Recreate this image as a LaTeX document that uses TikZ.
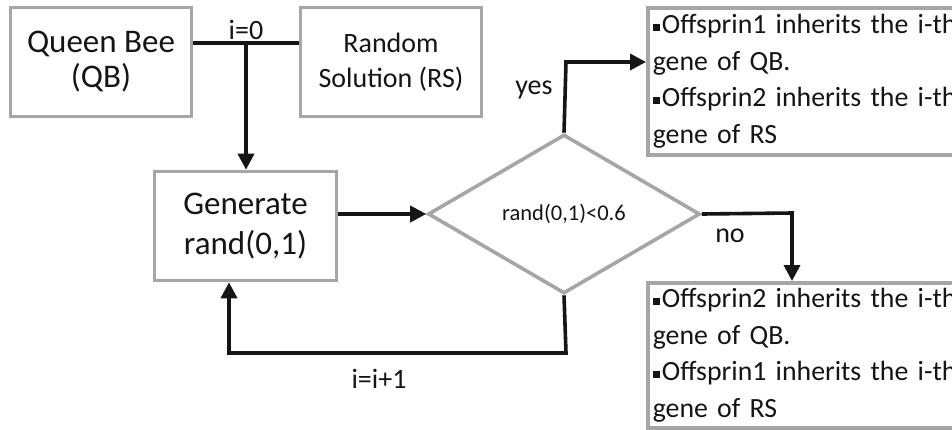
\documentclass[tikz,border=0pt]{standalone}
\usepackage{fontspec}
\setmainfont{Carlito}
\usetikzlibrary{arrows.meta,shapes.geometric,calc}
\newcommand{\bul}{\raisebox{0.18ex}{\rule{0.27em}{0.27em}}\hspace{0.06em}}
\tikzset{
  gbox/.style={draw=boxgray, line width=3.6pt, inner sep=0pt, align=center},
  conn/.style={line width=3.6pt, draw=linegray},
  arr/.style={conn, -{Triangle[length=16pt,width=16pt]}},
  lbl/.style={font=\fontsize{28}{30}\selectfont, text=txt, inner sep=0pt},
}
\definecolor{boxgray}{HTML}{A6A6A6}
\definecolor{linegray}{HTML}{151515}
\definecolor{txt}{HTML}{151515}
\begin{document}
\begin{tikzpicture}[x=1pt,y=-1pt]
\clip (0,0) rectangle (952,429);
\fill[white] (0,0) rectangle (952,429);
% boxes
\node[gbox, minimum width=181pt, minimum height=109pt, font=\fontsize{33}{35}\selectfont, text=txt] (qb) at (101,62) {Queen Bee\\(QB)};
\node[gbox, minimum width=181pt, minimum height=109pt, font=\fontsize{28}{35}\selectfont, text=txt] (rs) at (391,62) {Random\\Solution (RS)};
\node[gbox, minimum width=182pt, minimum height=109pt, font=\fontsize{33}{40}\selectfont, text=txt] (gen) at (245.5,226) {Generate\\rand(0,1)};
\node[gbox, shape=diamond, minimum width=272pt, minimum height=159pt, font=\fontsize{22.5}{24}\selectfont, text=txt] (dia) at (564,214) {rand(0,1)<0.6};
\node[gbox, anchor=north west, minimum width=340pt, minimum height=147pt, text width=330pt, inner xsep=2pt, align=left, font=\fontsize{27.8}{36.5}\selectfont, text=txt] (tr) at (646,6) {\bul Offsprin1 inherits the i-th\\gene of QB.\\\bul Offsprin2 inherits the i-th\\gene of RS};
\node[gbox, anchor=north west, minimum width=340pt, minimum height=145pt, text width=330pt, inner xsep=2pt, align=left, font=\fontsize{27.8}{36.5}\selectfont, text=txt] (br) at (646,281) {\bul Offsprin2 inherits the i-th\\gene of QB.\\\bul Offsprin1 inherits the i-th\\gene of RS};
% coordinates
\coordinate (j) at (246,43);
\coordinate (yc) at (566,62);
\coordinate (nc) at (792,213);
\coordinate (lc) at (566,353);
\coordinate (lb) at (229,353);
% connectors
\draw[conn] (qb.east |- j) -- (rs.west |- j);
\draw[arr] (j) -- (gen.north -| j);
\draw[arr] (gen.east |- dia.west) -- (dia.west);
\draw[arr] (dia.north) -- (yc) -- (tr.west |- yc);
\draw[arr] (dia.east) -- (nc) -- (br.north -| nc);
\draw[arr] (dia.south) -- (lc) -- (lb) -- (gen.south -| lb);
% labels
\node[lbl] (l0) at (246,30) {i=0};
\node[lbl] (lyes) at (534,90) {yes};
\node[lbl] (lno) at (730,236) {no};
\node[lbl] (linc) at (379,379) {i=i+1};
\end{tikzpicture}
\end{document}
